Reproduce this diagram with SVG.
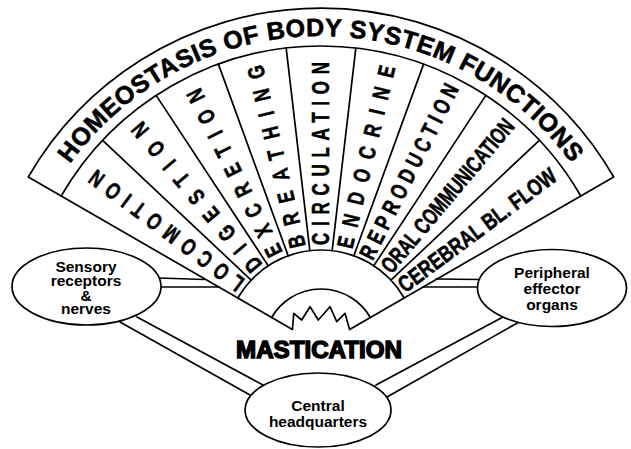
<svg xmlns="http://www.w3.org/2000/svg" width="631" height="449" viewBox="0 0 631 449">
  <style>
    .ln { fill: none; stroke: #000; stroke-width: 1.7; stroke-linejoin: round; stroke-linecap: round; }
    .node { fill: #fff; stroke: #000; stroke-width: 1.7; }
    .nt { font-family: "Liberation Sans", Arial, sans-serif; font-weight: bold; font-size: 15.5px; fill: #000; text-anchor: middle; }
    .seg { font-family: "Liberation Sans", Arial, sans-serif; font-weight: bold; font-size: 23px; fill: #000; stroke: #000; stroke-width: 0.6; }
    .title { font-family: "Liberation Sans", Arial, sans-serif; font-weight: bold; font-size: 25px; fill: #000; stroke: #000; stroke-width: 0.6; }
    .mast { font-family: "Liberation Sans", Arial, sans-serif; font-weight: bold; font-size: 23px; fill: #000; stroke: #000; stroke-width: 1.4; text-anchor: middle; }
  </style>
  <defs>
    <path id="titleArc" d="M52.53,191 A310,310 0 0 1 589.47,191"/>
  </defs>
  <rect width="631" height="449" fill="#fff"/>

  <!-- connectors (double lines) -->
  <g id="connectors" class="ln">
    <line x1="159" y1="278" x2="204" y2="279.5"/>
    <line x1="161" y1="287" x2="219" y2="287"/>
    <line x1="436" y1="279" x2="480" y2="279.5"/>
    <line x1="423" y1="287" x2="478" y2="287"/>
    <line x1="120" y1="322" x2="250" y2="395"/>
    <line x1="137" y1="317" x2="263" y2="385"/>
    <line x1="376" y1="385" x2="503" y2="317"/>
    <line x1="387" y1="397" x2="519" y2="322"/>
  </g>

  <!-- fan outline with title band -->
  <g id="fan">
    <path class="ln" fill="#fff" d="M292.4,329.5 L28.3,177 A338,338 0 0 1 613.7,177 L349.6,329.5 L345,313.3 L336.7,321.7 L330,306.7 L318.3,320 L310,306.7 L301.7,320 L293.8,313.3 Z"/>
    <path class="ln" d="M61.19,196 A300,300 0 0 1 580.81,196"/>
    <path class="ln" d="M237.86,298 A96,96 0 0 1 404.14,298"/>
    <path class="ln" d="M271.64,317.5 A57,57 0 0 1 370.36,317.5"/>
    <g class="ln">
      <line x1="251.13" y1="280.16" x2="102.66" y2="140.26"/>
      <line x1="268.25" y1="265.79" x2="156.15" y2="95.35"/>
      <line x1="288.17" y1="255.79" x2="218.40" y2="64.09"/>
      <line x1="309.85" y1="250.65" x2="286.17" y2="48.04"/>
      <line x1="332.15" y1="250.65" x2="355.83" y2="48.04"/>
      <line x1="353.83" y1="255.79" x2="423.60" y2="64.09"/>
      <line x1="373.75" y1="265.79" x2="485.85" y2="95.35"/>
      <line x1="390.87" y1="280.16" x2="539.34" y2="140.26"/>
    </g>
  </g>

  <g id="title-band">
    <text class="title"><textPath href="#titleArc" startOffset="32" textLength="584" lengthAdjust="spacing">HOMEOSTASIS OF BODY SYSTEM FUNCTIONS</textPath></text>
  </g>

  <!-- segments -->
  <g id="seg-locomotion" transform="translate(321,346) rotate(-143.333)">
    <text class="seg" transform="scale(0.74,1)" x="135.1" y="8.2" textLength="251.4" lengthAdjust="spacing">LOCOMOTION</text>
  </g>
  <g id="seg-digestion" transform="translate(321,346) rotate(-130)">
    <text class="seg" transform="scale(0.74,1)" x="135.1" y="8.2" textLength="254" lengthAdjust="spacing">DIGESTION</text>
  </g>
  <g id="seg-excretion" transform="translate(321,346) rotate(-116.667)">
    <text class="seg" transform="scale(0.74,1)" x="136.5" y="8.2" textLength="250" lengthAdjust="spacing">EXCRETION</text>
  </g>
  <g id="seg-breathing" transform="translate(321,346) rotate(-103.333)">
    <text class="seg" transform="scale(0.74,1)" x="136.5" y="8.2" textLength="252.7" lengthAdjust="spacing">BREATHING</text>
  </g>
  <g id="seg-circulation" transform="translate(321,346) rotate(-90)">
    <text class="seg" transform="scale(0.74,1)" x="136.5" y="8.2" textLength="247.3" lengthAdjust="spacing">CIRCULATION</text>
  </g>
  <g id="seg-endocrine" transform="translate(321,346) rotate(-76.667)">
    <text class="seg" transform="scale(0.74,1)" x="136.5" y="8.2" textLength="252.7" lengthAdjust="spacing">ENDOCRINE</text>
  </g>
  <g id="seg-reproduction" transform="translate(321,346) rotate(-63.333)">
    <text class="seg" transform="scale(0.74,1)" x="133.8" y="8.2" textLength="260.8" lengthAdjust="spacing">REPRODUCTION</text>
  </g>
  <g id="seg-oral" transform="translate(321,346) rotate(-50)">
    <text class="seg" x="100" y="8.2" textLength="193" lengthAdjust="spacingAndGlyphs">ORAL COMMUNICATION</text>
  </g>
  <g id="seg-cerebral" transform="translate(321,346) rotate(-36.667)">
    <text class="seg" x="99" y="8.2" textLength="191" lengthAdjust="spacingAndGlyphs">CEREBRAL BL. FLOW</text>
  </g>

  <g id="mastication">
    <text class="mast" x="319" y="358" textLength="166" lengthAdjust="spacingAndGlyphs">MASTICATION</text>
  </g>

  <!-- nodes -->
  <g id="sensory">
    <ellipse class="node" cx="86.5" cy="286.5" rx="74.5" ry="38.5"/>
    <text class="nt" x="86" y="271.5">Sensory</text>
    <text class="nt" x="86" y="286">receptors</text>
    <text class="nt" x="86" y="300.5">&amp;</text>
    <text class="nt" x="86" y="314">nerves</text>
  </g>
  <g id="peripheral">
    <ellipse class="node" cx="552" cy="288" rx="74.5" ry="38.5"/>
    <text class="nt" x="552" y="278">Peripheral</text>
    <text class="nt" x="552" y="294">effector</text>
    <text class="nt" x="552" y="310">organs</text>
  </g>
  <g id="central">
    <ellipse class="node" cx="318" cy="410" rx="73" ry="37"/>
    <text class="nt" x="318" y="411">Central</text>
    <text class="nt" x="318" y="427">headquarters</text>
  </g>
</svg>
